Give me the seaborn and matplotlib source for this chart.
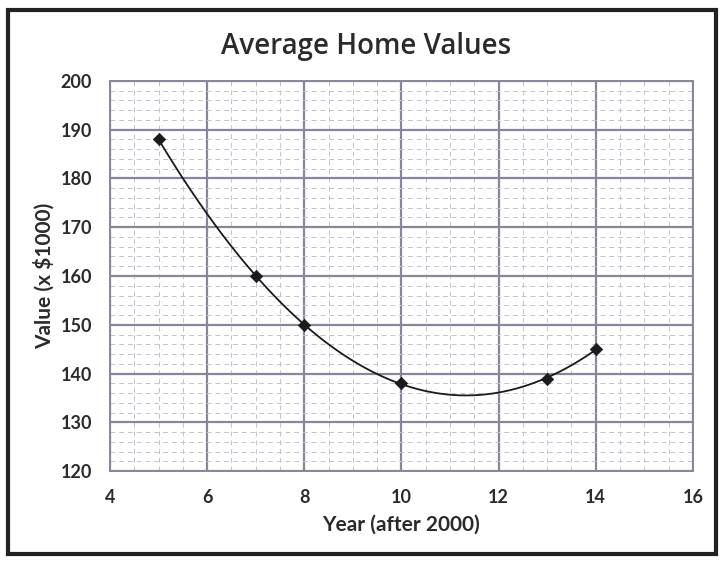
import numpy as np
import pandas as pd
import seaborn as sb
import matplotlib.pyplot as plt
from matplotlib.ticker import MultipleLocator
from matplotlib.patches import Rectangle

# datos
years = [5, 7, 8, 10, 13, 14]
values = [188, 160, 150, 138, 139, 145]
df = pd.DataFrame({'year': years, 'value': values})

sb.set_style('white')
plt.rcParams['font.family'] = ['Lato', 'DejaVu Sans']

fig = plt.figure(figsize=(7.24, 5.61), dpi=100)
ax = fig.add_axes([0.152, 0.160, 0.805, 0.696])

# curva suave (tendencia de orden 2) + puntos
sb.regplot(data=df, x='year', y='value', order=2, ci=None, scatter=False,
           line_kws={'color': '#1a1a1a', 'lw': 1.3}, ax=ax)
sb.scatterplot(data=df, x='year', y='value', marker='D', s=40,
               color='#1a1a1a', edgecolor='#1a1a1a', zorder=5, ax=ax)

ax.set_xlim(4, 16)
ax.set_ylim(120, 200)
ax.xaxis.set_major_locator(MultipleLocator(2))
ax.xaxis.set_minor_locator(MultipleLocator(0.5))
ax.yaxis.set_major_locator(MultipleLocator(10))
ax.yaxis.set_minor_locator(MultipleLocator(2))
ax.grid(which='major', color='#8a849c', lw=1.6)
ax.grid(which='minor', color='#c4c1d0', lw=0.7, ls=(0, (5, 4)))
ax.set_axisbelow(True)
for s in ax.spines.values():
    s.set_color('#8a849c')
    s.set_linewidth(1.4)

ax.tick_params(which='major', length=5, color='#8a849c', labelsize=13,
               labelcolor='#2b2b2b', pad=8)
ax.tick_params(which='minor', length=3, color='#8a849c')
for lab in ax.get_xticklabels() + ax.get_yticklabels():
    lab.set_fontweight('bold')

ax.set_xlabel('Year (after 2000)', fontsize=15, fontweight='bold',
              color='#2b2b2b', labelpad=6)
ax.set_ylabel('Value (x $1000)', fontsize=15, fontweight='bold',
              color='#2b2b2b', labelpad=4)
fig.text(0.505, 0.918, 'Average Home Values', ha='center', va='center',
         fontsize=20, fontweight='semibold', family=['Open Sans', 'DejaVu Sans'],
         color='#2b2b2b')

# marco del grafico
fig.patches.append(Rectangle((0.011, 0.012), 0.978, 0.970, transform=fig.transFigure,
                             fill=False, ec='#222222', lw=3))

fig.savefig('out.png', dpi=100)
